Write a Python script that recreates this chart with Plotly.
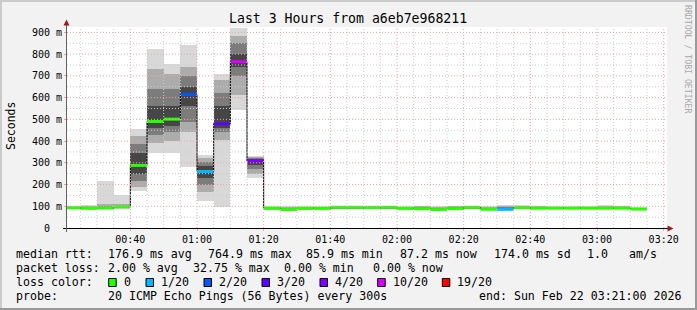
import plotly.graph_objects as go
import pandas as pd

W, H = 697, 310
DATE = "2026-02-22"
range_start = "00:21"
range_end = "03:21"

# ---- data ----
bar_end = ["00:25", "00:30", "00:35", "00:40", "00:45", "00:50", "00:55", "01:00",
           "01:05", "01:10", "01:15", "01:20", "01:25", "01:30", "01:35", "01:40",
           "01:45", "01:50", "01:55", "02:00", "02:05", "02:10", "02:15", "02:20",
           "02:25", "02:30", "02:35", "02:40", "02:45", "02:50", "02:55", "03:00",
           "03:05", "03:10", "03:15"]
median_ms = [93, 91, 93, 97, 288, 490, 501, 614, 260, 480, 765, 308, 92, 85, 90, 90,
             95, 95, 94, 95, 90, 89, 85, 89, 95, 86, 86, 94, 91, 91, 91, 91,
             91, 91, 87]
loss_idx = [0, 0, 0, 0, 0, 0, 0, 2, 1, 3, 5, 4, 0, 0, 0, 0,
            0, 0, 0, 0, 0, 0, 0, 0, 0, 0, 1, 0, 0, 0, 0, 0,
            0, 0, 0]
# nested smoke bands (outer -> inner), lower and upper bounds in ms
smoke_l1 = [88, 84, 84, 88, 168, 345, 345, 283, 125, 97, 545, 230, 86, 80, 85, 85,
            88, 88, 86, 87, 85, 84, 80, 84, 86, 82, 84, 86, 86, 86, 86, 86, 86, 86, 83]
smoke_l2 = [89, 86, 86, 90, 190, 390, 400, 440, 165, 405, 610, 250, 87, 82, 87, 87,
            90, 90, 88, 89, 87, 86, 82, 85, 89, 83, 85, 88, 88, 87, 87, 87, 88, 87, 85]
smoke_l3 = [90, 88, 89, 92, 215, 430, 440, 490, 200, 440, 700, 270, 88, 83, 88, 88,
            92, 92, 90, 91, 88, 87, 83, 87, 91, 84, 86, 90, 89, 89, 89, 89, 89, 89, 86]
smoke_l4 = [91, 89, 91, 94, 250, 460, 470, 560, 230, 460, 740, 290, 89, 84, 89, 89,
            94, 94, 92, 93, 89, 88, 84, 88, 93, 85, 86, 92, 90, 90, 90, 90, 90, 90, 86]
smoke_h4 = [95, 93, 96, 99, 345, 560, 560, 650, 285, 560, 800, 318, 94, 88, 93, 92,
            98, 98, 96, 97, 92, 92, 88, 92, 97, 88, 90, 97, 93, 93, 93, 93, 93, 93, 89]
smoke_h3 = [96, 96, 100, 102, 385, 640, 640, 700, 305, 620, 850, 322, 95, 92, 95, 94,
            99, 99, 98, 99, 95, 95, 92, 96, 99, 93, 95, 100, 96, 95, 95, 95, 96, 95, 91]
smoke_h2 = [98, 100, 110, 110, 425, 730, 710, 740, 320, 680, 885, 326, 96, 96, 98, 97,
            100, 100, 100, 100, 98, 99, 96, 99, 100, 97, 100, 102, 99, 98, 98, 98, 100, 99, 93]
smoke_h1 = [101, 107, 216, 153, 456, 824, 754, 842, 337, 710, 920, 332, 98, 100, 101, 100,
            101, 101, 101, 101, 102, 103, 100, 102, 101, 100, 104, 105, 103, 101, 101, 101, 104, 102, 95]

loss_colors = ["#26ff00", "#00b8ff", "#0059ff", "#5e00ff", "#7e00ff", "#dd00ff", "#ff0000"]
loss_labels = ["0", "1/20", "2/20", "3/20", "4/20", "10/20", "19/20"]
smoke_colors = ["#d8d8d8", "#acacac", "#7c7c7c", "#464646"]

y_ticks = [0, 100, 200, 300, 400, 500, 600, 700, 800, 900]
y_ticktext = ["0\u00a0\u00a0", "100 m", "200 m", "300 m", "400 m", "500 m",
              "600 m", "700 m", "800 m", "900 m"]

title = "Last 3 Hours from a6eb7e968211"
# legend items: (text, x of first glyph, row)
legend_items = [
    ("median rtt:", 16, 0), ("176.9 ms avg", 107.3, 0), ("764.9 ms max", 207.3, 0),
    ("85.9 ms min", 306, 0), ("87.2 ms now", 400, 0), ("174.0 ms sd", 493.3, 0),
    ("1.0", 586.7, 0), ("am/s", 628.3, 0),
    ("packet loss:", 16, 1), ("2.00 % avg", 107.3, 1), ("32.75 % max", 192.7, 1),
    ("0.00 % min", 283.3, 1), ("0.00 % now", 372.3, 1),
    ("loss color:", 16, 2),
    ("probe:", 16, 3), ("20 ICMP Echo Pings (56 Bytes) every 300s", 107.3, 3),
    ("end: Sun Feb 22 03:21:00 2026", 478.3, 3),
]
watermark = "RRDTOOL / TOBI OETIKER"

# ---- geometry ----
PX_L, PX_R, PX_T, PX_B = 67, 667, 27, 228
Y_MAX = 925
MONO = "DejaVu Sans Mono"
LEG_FONT = 11.6
ROW_Y = [254.3, 268.3, 282.3, 296.0]


def px(x):
    return x / W


def py(y):
    return 1 - y / H


def ts(hm):
    return pd.Timestamp(f"{DATE} {hm}")


FIVE = pd.Timedelta(minutes=5)
ends = [ts(t) for t in bar_end]
starts = [e - FIVE for e in ends]
centers = [e - FIVE / 2 for e in ends]

fig = go.Figure()

lows = [smoke_l1, smoke_l2, smoke_l3, smoke_l4]
highs = [smoke_h1, smoke_h2, smoke_h3, smoke_h4]
for k in range(4):
    fig.add_trace(go.Bar(
        x=centers, base=lows[k], y=[h - l for h, l in zip(highs[k], lows[k])],
        width=300000, marker=dict(color=smoke_colors[k], line=dict(width=0)),
        hoverinfo="skip", showlegend=False))

fig.add_trace(go.Scatter(
    x=starts + [ends[-1]], y=median_ms + [median_ms[-1]], mode="lines",
    line=dict(color="#000000", width=1, shape="hv"), hoverinfo="skip", showlegend=False))

for ci, col in enumerate(loss_colors):
    xs, ys = [], []
    for s, e, m, li in zip(starts, ends, median_ms, loss_idx):
        if li == ci:
            xs += [s, e, None]
            ys += [m, m, None]
    if xs:
        fig.add_trace(go.Scatter(x=xs, y=ys, mode="lines",
                                 line=dict(color=col, width=3),
                                 hoverinfo="skip", showlegend=False))

shapes = []
t = ts("00:25")
while t <= ts("03:20"):
    major = (t.minute % 20 == 0)
    shapes.append(dict(type="line", xref="x", yref="y", x0=t, x1=t, y0=0, y1=Y_MAX,
                       layer="above",
                       line=dict(color="#f4a0a0" if major else "#cccccc", width=1, dash="1px,2px")))
    t += FIVE
for v in range(50, 950, 50):
    major = (v % 100 == 0)
    shapes.append(dict(type="line", xref="paper", yref="y", x0=px(PX_L), x1=px(PX_R), y0=v, y1=v,
                       layer="above",
                       line=dict(color="#f4a0a0" if major else "#cccccc", width=1, dash="1px,2px")))

shapes.append(dict(type="line", xref="paper", yref="paper", x0=px(63), x1=px(670),
                   y0=py(PX_B + 0.5), y1=py(PX_B + 0.5), line=dict(color="#000000", width=1), layer="above"))
shapes.append(dict(type="line", xref="paper", yref="paper", x0=px(66.5), x1=px(66.5),
                   y0=py(PX_B + 4), y1=py(24), line=dict(color="#606060", width=1), layer="above"))
shapes.append(dict(type="path", xref="paper", yref="paper",
                   path=f"M {px(63.5)} {py(25.5)} L {px(69.5)} {py(25.5)} L {px(66.5)} {py(19.5)} Z",
                   fillcolor="#9a1c1c", line=dict(width=0), layer="above"))
shapes.append(dict(type="path", xref="paper", yref="paper",
                   path=f"M {px(667.5)} {py(PX_B - 2.5)} L {px(667.5)} {py(PX_B + 3.5)} L {px(673.5)} {py(PX_B + 0.5)} Z",
                   fillcolor="#9a1c1c", line=dict(width=0), layer="above"))

shapes += [
    dict(type="rect", xref="paper", yref="paper", x0=0, x1=1, y0=py(2), y1=1,
         fillcolor="#cbcbcb", line=dict(width=0)),
    dict(type="rect", xref="paper", yref="paper", x0=0, x1=px(2), y0=0, y1=1,
         fillcolor="#cbcbcb", line=dict(width=0)),
    dict(type="rect", xref="paper", yref="paper", x0=0, x1=1, y0=0, y1=py(308),
         fillcolor="#9a9a9a", line=dict(width=0)),
    dict(type="rect", xref="paper", yref="paper", x0=px(695), x1=1, y0=0, y1=1,
         fillcolor="#9a9a9a", line=dict(width=0)),
]

annotations = []
annotations.append(dict(text=title, x=px(348), y=py(19), xref="paper", yref="paper",
                        xanchor="center", yanchor="middle", showarrow=False,
                        font=dict(family=MONO, size=13.2, color="#000")))
annotations.append(dict(text="Seconds", x=px(11), y=py(126), xref="paper", yref="paper",
                        xanchor="center", yanchor="middle", showarrow=False, textangle=-90,
                        font=dict(family=MONO, size=11.5, color="#000")))
annotations.append(dict(text=watermark, x=px(688), y=py(59), xref="paper", yref="paper",
                        xanchor="center", yanchor="middle", showarrow=False, textangle=90,
                        font=dict(family=MONO, size=8.2, color="#a8a8a8")))
for txt, x0, row in legend_items:
    annotations.append(dict(text=txt.replace(" ", "\u00a0"), x=px(x0 - 1.7), y=py(ROW_Y[row]),
                            xref="paper", yref="paper", xanchor="left", yanchor="middle",
                            showarrow=False, font=dict(family=MONO, size=LEG_FONT, color="#000")))
box_left = [108.7, 146, 204, 262, 320, 377.7, 442.3]
for bx, col, lab in zip(box_left, loss_colors, loss_labels):
    shapes.append(dict(type="rect", xref="paper", yref="paper", x0=px(bx), x1=px(bx + 7.5),
                       y0=py(286.5), y1=py(278.5), fillcolor=col,
                       line=dict(color="#000000", width=1)))
    annotations.append(dict(text=lab, x=px(bx + 14.6 - 1.7), y=py(ROW_Y[2]), xref="paper", yref="paper",
                            xanchor="left", yanchor="middle", showarrow=False,
                            font=dict(family=MONO, size=LEG_FONT, color="#000")))

fig.update_layout(
    width=W, height=H, margin=dict(l=0, r=0, t=0, b=0, pad=0),
    paper_bgcolor="#f2f2f2", plot_bgcolor="#ffffff",
    barmode="overlay", bargap=0, showlegend=False,
    shapes=shapes, annotations=annotations,
    xaxis=dict(type="date", domain=[px(PX_L), px(PX_R)],
               range=[ts(range_start), ts(range_end)],
               tickformat="%H:%M", dtick=20 * 60 * 1000, tick0=f"{DATE} 00:00:00",
               showgrid=False, zeroline=False, showline=False, automargin=False,
               ticks="outside", ticklen=2, tickcolor="#f4a0a0",
               tickfont=dict(family=MONO, size=10, color="#000")),
    yaxis=dict(domain=[py(PX_B), py(PX_T)], range=[0, Y_MAX],
               tickvals=y_ticks, ticktext=y_ticktext, automargin=False,
               showgrid=False, zeroline=False, showline=False,
               ticks="outside", ticklen=2, tickcolor="#f4a0a0",
               tickfont=dict(family=MONO, size=10, color="#000")),
)

fig.write_html("out.html")
